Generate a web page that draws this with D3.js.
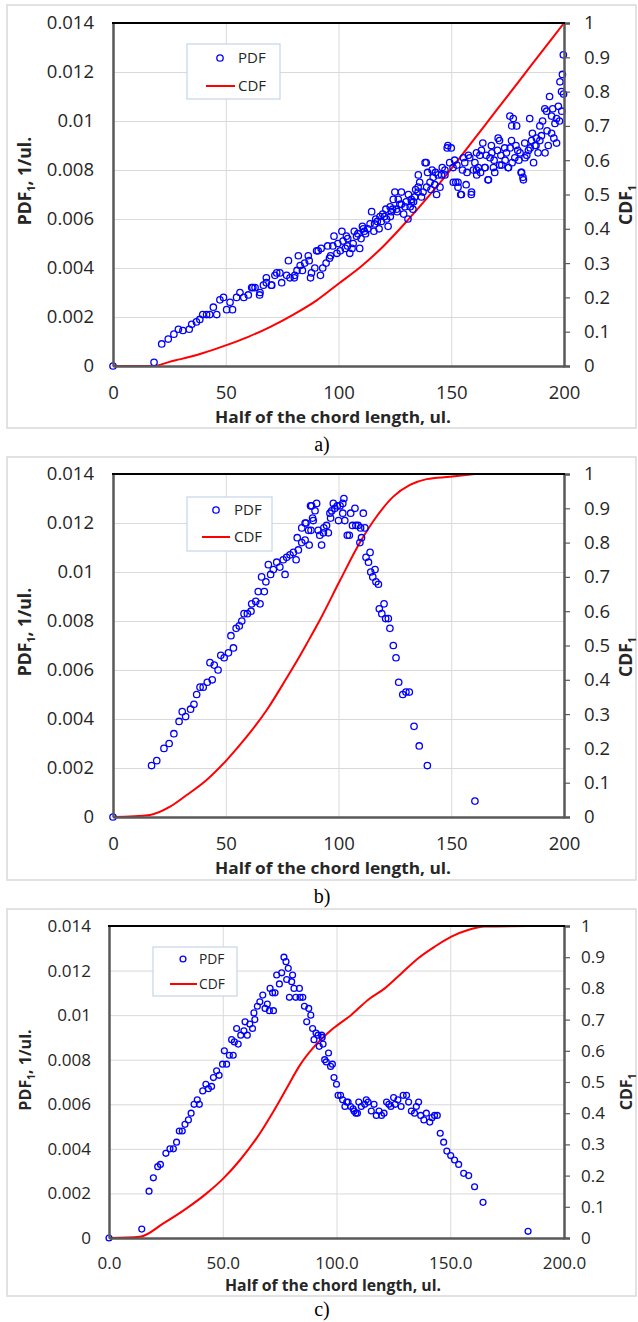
<!DOCTYPE html>
<html>
<head>
<meta charset="utf-8">
<script src="https://cdn.jsdelivr.net/npm/d3@7"></script>
<style>
  body { margin: 0; background: #fff; }
  text { font-family: "Open Sans", sans-serif; }
</style>
</head>
<body>
<svg id="chart" width="638" height="1322"></svg>
<script>
// ---- data ----
const xTicks = [0, 50, 100, 150, 200]
const xLabelsAB = ["0", "50", "100", "150", "200"]
const xLabelsC = ["0.0", "50.0", "100.0", "150.0", "200.0"]
const pdfTicks = [0, 0.002, 0.004, 0.006, 0.008, 0.01, 0.012, 0.014]
const pdfLabels = ["0", "0.002", "0.004", "0.006", "0.008", "0.01", "0.012", "0.014"]
const cdfTicks = [0, 0.1, 0.2, 0.3, 0.4, 0.5, 0.6, 0.7, 0.8, 0.9, 1]
const cdfLabels = ["0", "0.1", "0.2", "0.3", "0.4", "0.5", "0.6", "0.7", "0.8", "0.9", "1"]
const xTitle = "Half of the chord length, ul."
const captions = ["a)", "b)", "c)"]

// panel a) [half chord, pdf]
const pdfA = [[0,0],[18.2,0.00015],[21.6,0.0009],[24.5,0.0011],[27,0.0013],[29,0.0015],[31,0.00145],[33.8,0.0015],
  [34.9,0.0017],[37,0.0018],[38.5,0.0019],[39.8,0.0021],[41.5,0.0021],[42.9,0.0021],[44.5,0.0024],[46,0.0021],
  [47.4,0.0027],[49,0.0028],[50.4,0.0023],[51.9,0.0026],[53,0.0023],[54.8,0.0028],[56.3,0.003],[58,0.0028],
  [60,0.0029],[61.5,0.0032],[62,0.0032],[63,0.0032],[65,0.0029],[65.2,0.003],[66.7,0.0033],[68,0.0034],[68,0.0036],
  [70.2,0.0033],[70.4,0.0033],[71.8,0.0037],[72.6,0.0038],[74,0.0038],[74.8,0.0034],[77,0.0037],[77.8,0.0043],
  [78.5,0.0036],[80.4,0.0036],[80.6,0.0037],[81.6,0.0039],[82.2,0.0045],[83,0.0041],[84,0.0039],[85,0.0042],
  [86.6,0.0045],[87,0.0043],[87.6,0.0036],[88,0.0038],[89.5,0.004],[90.3,0.0047],[91,0.0047],[92,0.0037],[92.3,0.0048],
  [93,0.004],[94.5,0.0042],[95.2,0.0049],[96,0.0044],[96.5,0.0045],[97.5,0.0049],[98,0.0053],[99.3,0.0046],[99.7,0.005],
  [100.8,0.0047],[101.5,0.0055],[102,0.0051],[103,0.0048],[103.5,0.0053],[104,0.0049],[104.1,0.0052],[105,0.0046],
  [106,0.0048],[106.5,0.005],[107,0.0055],[108,0.0053],[108.6,0.0054],[109.4,0.0048],[110,0.0052],[110.6,0.0057],
  [111,0.0056],[111.5,0.0055],[112,0.0054],[113,0.0056],[114,0.0058],[114.7,0.0063],[115.7,0.0055],[116,0.0058],
  [116.5,0.006],[117.2,0.0059],[118,0.0056],[118.4,0.0061],[119,0.0059],[119.6,0.0062],[120.4,0.0061],[121,0.0064],
  [121.3,0.006],[122,0.0057],[122.9,0.0065],[123,0.0061],[123.4,0.0063],[124,0.0064],[124.3,0.0068],[125,0.0071],
  [125.7,0.0064],[126,0.0063],[126.5,0.0068],[127.2,0.0066],[127.9,0.0071],[127.9,0.0066],[128.9,0.0062],[129.5,0.0065],
  [130,0.0067],[130.8,0.006],[131,0.007],[131.8,0.0065],[132.3,0.0068],[132.4,0.0067],[133,0.0064],[133.3,0.0067],
  [133.8,0.0069],[134.2,0.0072],[135.3,0.0071],[135.3,0.0073],[135.4,0.0078],[136,0.0075],[136.8,0.0069],[137.5,0.0071],
  [138.4,0.0083],[138.9,0.0083],[139.1,0.0073],[139.5,0.0079],[140.6,0.0075],[141,0.0072],[141.5,0.008],[142,0.0077],
  [142.7,0.0074],[143,0.0079],[143.5,0.007],[144.2,0.0078],[145,0.0073],[145.7,0.0078],[146,0.0081],[147.2,0.008],
  [147.2,0.0078],[148.2,0.0089],[148.5,0.009],[149.3,0.0083],[150,0.0089],[150.8,0.0081],[150.9,0.0075],[151.5,0.0084],
  [152,0.0075],[152.5,0.0082],[153,0.0073],[153,0.0075],[154.2,0.007],[154.5,0.007],[155,0.008],[155.4,0.0085],
  [156,0.0083],[156.6,0.0074],[157,0.0079],[157.6,0.0086],[158.2,0.0085],[158.9,0.007],[159,0.0071],[159.8,0.008],
  [160.5,0.0083],[161.2,0.0087],[161.2,0.008],[161.3,0.0078],[162,0.0081],[162.7,0.0086],[163,0.0079],[163.4,0.0088],
  [164,0.0091],[164.9,0.0081],[165,0.0081],[165.5,0.0086],[166.3,0.0076],[166.5,0.0076],[167.2,0.0085],[167.8,0.009],
  [168,0.0087],[168.7,0.0081],[169,0.0084],[169.3,0.0079],[170.5,0.0088],[170.8,0.0093],[171.4,0.0092],[171.5,0.0082],
  [172,0.0086],[172.4,0.0082],[173.7,0.0089],[173.9,0.0084],[174.5,0.0087],[175.2,0.0081],[175.4,0.0081],[176,0.0102],
  [176.1,0.0089],[176.7,0.0092],[176.8,0.0098],[177,0.0083],[177.5,0.0101],[178.2,0.0085],[178.7,0.009],[179,0.0098],
  [179.5,0.0088],[180,0.0084],[180.5,0.0087],[181,0.0079],[181.2,0.0079],[181.8,0.0077],[182,0.0076],[182.6,0.0091],
  [182.7,0.0085],[183.5,0.0086],[184.2,0.0088],[184.8,0.0101],[185,0.0089],[185.6,0.0092],[186,0.0095],[186.5,0.0083],
  [187.1,0.009],[187.6,0.009],[187.8,0.0093],[188.5,0.0087],[189.3,0.0092],[189.3,0.0098],[190,0.0094],[190.5,0.01],
  [191.5,0.0105],[191.6,0.0087],[192.3,0.0104],[192.5,0.0096],[193,0.009],[193.6,0.011],[194.5,0.0095],[194.5,0.0102],
  [195,0.0105],[195.5,0.0093],[196,0.0099],[196.7,0.0091],[196.7,0.0101],[197.5,0.0106],[198,0.01],[198.2,0.0116],
  [198.9,0.0112],[199,0.0104],[199.3,0.0119],[199.7,0.0127],[199.8,0.0111]]
const cdfA = [[0,0],[18,0],[25,0.012],[30,0.02],[40,0.038],[50,0.06],[60,0.085],[70,0.115],[80,0.15],[90,0.19],
  [100,0.24],[110,0.29],[120,0.35],[130,0.42],[140,0.495],[150,0.575],[160,0.66],[170,0.745],[180,0.83],[190,0.915],[200,1]]

// panel b)
const pdfB = [[0,0],[17.1,0.0021],[19.4,0.0023],[22.6,0.0028],[24.9,0.003],[27,0.0034],[29.3,0.0039],[30.7,0.0043],
  [32.2,0.0041],[34.4,0.0044],[35.9,0.0046],[37.1,0.005],[38.6,0.0053],[40,0.0053],[41.8,0.0055],[43,0.0063],[44,0.0056],
  [44.9,0.0062],[46.6,0.006],[47.8,0.0066],[49.3,0.0065],[51.2,0.0067],[52.3,0.0074],[53.4,0.0069],[54.6,0.0077],
  [56,0.0078],[57.1,0.008],[58.1,0.0083],[59.6,0.0083],[61.2,0.0084],[61.5,0.0087],[63.3,0.0088],[64.4,0.0092],
  [65.2,0.0087],[65.9,0.0098],[67.1,0.0092],[67.8,0.0096],[68.9,0.0103],[69.9,0.0099],[71.1,0.0101],[72.6,0.0104],
  [74,0.0102],[75.5,0.0105],[76.3,0.0099],[77,0.0106],[78.5,0.0107],[80,0.0108],[81.2,0.0105],[81.7,0.0114],[82.2,0.0109],
  [83.7,0.0112],[83.7,0.0118],[85.2,0.0113],[85.2,0.012],[85.6,0.012],[86.7,0.0117],[87,0.0111],[87.6,0.0127],[87.8,0.0117],
  [88.1,0.0127],[88.5,0.0122],[88.8,0.0121],[89.6,0.0125],[90.3,0.0128],[91,0.0117],[91.7,0.0115],[92.5,0.0111],
  [93.3,0.0116],[93.5,0.0118],[94.7,0.0119],[95.5,0.0116],[96.2,0.0124],[96.5,0.0122],[97,0.0125],[97.7,0.0128],
  [98.4,0.0126],[99.5,0.0127],[100,0.0121],[100.7,0.0127],[101.9,0.0128],[101.9,0.0124],[102.4,0.013],[102.8,0.0121],
  [103.9,0.0115],[104.8,0.0115],[105.4,0.0124],[106.2,0.0119],[107.3,0.0126],[107.7,0.0119],[108.7,0.0119],[109.5,0.0112],
  [109.8,0.0118],[110.2,0.0114],[111,0.0124],[111.7,0.0118],[112.2,0.0106],[113.3,0.0104],[114,0.0108],[114.3,0.01],
  [115.2,0.0098],[116.2,0.0101],[116.6,0.0096],[117.7,0.0095],[118.1,0.0085],[119.2,0.0083],[120.2,0.0087],[120.9,0.0081],
  [122.1,0.0081],[122.8,0.0077],[124.3,0.007],[125.5,0.0065],[126.7,0.0055],[128.5,0.005],[129.9,0.0051],[131.4,0.0051],
  [133.5,0.0037],[135.8,0.0029],[139.4,0.0021],[160.5,0.00065]]
const cdfB = [[0,0],[16.4,0.006],[25.3,0.03],[32.7,0.064],[41.5,0.108],[50.4,0.166],[59.3,0.234],[68.2,0.312],[77,0.405],
  [82.9,0.47],[85.9,0.505],[91.8,0.575],[100.7,0.69],[109.5,0.8],[116.9,0.876],[124.3,0.934],[131.7,0.968],[139.1,0.985],
  [149.4,0.992],[160.5,1]]

// panel c)
const pdfC = [[0,0],[14.4,0.0004],[17.6,0.0021],[19.5,0.0027],[21.4,0.0032],[22.6,0.0033],[25,0.0038],[26.8,0.004],
  [28.3,0.004],[29.7,0.0043],[30.9,0.0048],[32.2,0.0048],[33.4,0.0051],[34.9,0.0053],[36.1,0.0056],[37.4,0.006],
  [38.8,0.0062],[39.7,0.006],[41.2,0.0066],[42.6,0.0069],[43.7,0.0067],[45.1,0.0068],[45.9,0.0072],[47.3,0.0075],
  [48.4,0.0073],[49.9,0.0078],[50.7,0.0084],[51.7,0.0078],[52.9,0.0082],[53.9,0.0089],[54.6,0.0082],[55.1,0.0088],
  [56.1,0.0094],[56.8,0.0087],[57.9,0.0091],[59.3,0.0093],[59.8,0.0097],[60.8,0.0091],[61.9,0.0096],[63.1,0.0094],
  [63.7,0.0101],[64.1,0.0098],[65.2,0.0104],[66.3,0.0106],[67.6,0.0109],[68.6,0.0103],[69.6,0.0105],[70.5,0.0102],
  [70.8,0.0112],[71.9,0.011],[72.3,0.0102],[73,0.011],[73.7,0.0118],[74.9,0.0114],[75.9,0.0119],[76.9,0.0126],
  [77.8,0.0124],[78.1,0.0116],[78.8,0.0121],[79.3,0.0108],[80.3,0.0115],[80.7,0.0118],[81.3,0.0112],[82.1,0.0108],
  [83.7,0.0112],[84,0.0108],[85.2,0.0108],[85.9,0.0104],[86.9,0.0097],[87.8,0.0103],[88.7,0.01],[89.5,0.0094],
  [90.1,0.0089],[91,0.0092],[91.9,0.0091],[92.4,0.0086],[93.5,0.0091],[93.7,0.009],[94.1,0.0087],[94.8,0.008],
  [95.5,0.0079],[96.5,0.0083],[97.4,0.0077],[98.2,0.0078],[98.9,0.0072],[100,0.0069],[100.7,0.0064],[101.8,0.0064],
  [102.7,0.0062],[103.7,0.0059],[104.5,0.0061],[105.1,0.0061],[106.2,0.0059],[107.3,0.0058],[107.7,0.0057],[108.5,0.0056],
  [109.2,0.0056],[109.8,0.0061],[110.9,0.0059],[112.4,0.006],[113.1,0.0062],[113.9,0.0061],[115.3,0.0057],[116.5,0.006],
  [117.5,0.0055],[118.7,0.0057],[119.8,0.0055],[120.9,0.0056],[122,0.0061],[123,0.006],[123.9,0.0059],[125.1,0.0063],
  [125.8,0.006],[127,0.0062],[128.4,0.0059],[129.3,0.0064],[130.8,0.0064],[131.7,0.0061],[132.9,0.0057],[134.3,0.0056],
  [135.1,0.0059],[136.1,0.0061],[137,0.0055],[138.4,0.0053],[139.5,0.0056],[141,0.0052],[142,0.0054],[143.1,0.0055],
  [144.3,0.0055],[145.6,0.0047],[147.1,0.0043],[148.5,0.0039],[150.2,0.0037],[151.9,0.0035],[153.7,0.0033],[155.9,0.0029],
  [158.1,0.0028],[160.7,0.0023],[164.4,0.0016],[184.2,0.0003]]
const cdfC = [[0,0],[13.6,0.004],[23.9,0.047],[34.1,0.095],[42.9,0.143],[50.3,0.191],[57.6,0.25],[64.9,0.32],[72.2,0.405],
  [78.1,0.48],[84,0.555],[89.8,0.61],[98.6,0.672],[106.5,0.715],[113.8,0.763],[121.2,0.8],[128.5,0.848],[135.8,0.896],
  [143.2,0.934],[150.5,0.966],[157.8,0.987],[165.1,0.998],[184.2,1]]

// ---- layout ----
const panels = [
  { pdf: pdfA, cdf: cdfA, xLabels: xLabelsAB, caption: captions[0],
    frame: { y: 5, h: 423 }, plot: { l: 113, r: 564, t: 23, b: 366 }, fs: 1,
    legend: { x: 187, y: 44, w: 93, h: 55, mx: 33, my: 14, tx: 51, l0: 19, l1: 48, ly: 42 },
    xLab: 33, yPad: 19, rPad: 14, xTitleY: 422.5, titleW: 236, yTitleY: 181, rTitleY: 205, capY: 451 },
  { pdf: pdfB, cdf: cdfB, xLabels: xLabelsAB, caption: captions[1],
    frame: { y: 457, h: 423 }, plot: { l: 113, r: 564, t: 474, b: 817 }, fs: 1,
    legend: { x: 187, y: 497, w: 85, h: 54, mx: 29, my: 13, tx: 47, l0: 15, l1: 43, ly: 40 },
    xLab: 33, yPad: 19, rPad: 14, xTitleY: 874, titleW: 236, yTitleY: 632, rTitleY: 657, capY: 903 },
  { pdf: pdfC, cdf: cdfC, xLabels: xLabelsC, caption: captions[2],
    frame: { y: 909, h: 387 }, plot: { l: 109, r: 564, t: 926, b: 1238 }, fs: 0.92,
    legend: { x: 153, y: 947, w: 84, h: 49, mx: 30, my: 12, tx: 46, l0: 17, l1: 44, ly: 37 },
    xLab: 31, yPad: 18, rPad: 11, xTitleY: 1290.5, titleW: 216, yTitleY: 1070, rTitleY: 1092, capY: 1316 }
]

const svg = d3.select('#chart')
svg.append('rect').attr('width', 638).attr('height', 1322).attr('fill', '#fff')

const axisColor = '#595959'
const labelColor = '#262626'

function drawPanel(p) {
  const g = svg.append('g')
  const fsTick = 18.5 * p.fs, fsTitle = 17.5 * p.fs, fsXTitle = 16.5 * p.fs, fsLeg = 15 * p.fs

  // outer frame
  g.append('rect')
    .attr('x', 7).attr('y', p.frame.y)
    .attr('width', 629).attr('height', p.frame.h)
    .attr('fill', 'none').attr('stroke', '#d9d9d9').attr('stroke-width', 1.5)

  const x = d3.scaleLinear().domain([0, 200]).range([p.plot.l, p.plot.r])
  const y = d3.scaleLinear().domain([0, 0.014]).range([p.plot.b, p.plot.t])
  const y2 = d3.scaleLinear().domain([0, 1]).range([p.plot.b, p.plot.t])
  const w = p.plot.r - p.plot.l, h = p.plot.b - p.plot.t

  // gridlines
  g.append('g')
    .attr('transform', `translate(0,${p.plot.b})`)
    .call(d3.axisBottom(x).tickValues(xTicks.slice(1, -1)).tickSize(-h).tickFormat(''))
    .call(s => s.select('.domain').remove())
    .selectAll('line').attr('stroke', '#d9d9d9').attr('stroke-width', 1)
  g.append('g')
    .attr('transform', `translate(${p.plot.l},0)`)
    .call(d3.axisLeft(y).tickValues(pdfTicks.slice(1, -1)).tickSize(-w).tickFormat(''))
    .call(s => s.select('.domain').remove())
    .selectAll('line').attr('stroke', '#d9d9d9').attr('stroke-width', 1)

  // CDF line (secondary axis)
  g.append('path')
    .datum(p.cdf)
    .attr('fill', 'none')
    .attr('stroke', '#ff0000')
    .attr('stroke-width', 2)
    .attr('d', d3.line().x(d => x(d[0])).y(d => y2(d[1])).curve(d3.curveMonotoneX))

  // PDF markers
  g.append('g').selectAll('circle')
    .data(p.pdf)
    .join('circle')
    .attr('cx', d => x(d[0]))
    .attr('cy', d => y(d[1]))
    .attr('r', 3.2 * p.fs)
    .attr('fill', 'none')
    .attr('stroke', '#0000ff')
    .attr('stroke-width', 1.3)

  // left axis
  const left = g.append('g')
    .attr('transform', `translate(${p.plot.l},0)`)
    .call(d3.axisLeft(y).tickValues(pdfTicks).tickSize(0).tickPadding(p.yPad)
      .tickFormat((d, i) => pdfLabels[i]))
  left.select('.domain').attr('stroke', axisColor).attr('stroke-width', 2.5)
  left.selectAll('text').attr('font-size', fsTick).attr('fill', labelColor)

  // bottom axis
  const bottom = g.append('g')
    .attr('transform', `translate(0,${p.plot.b})`)
    .call(d3.axisBottom(x).tickValues(xTicks).tickSize(0)
      .tickPadding(p.xLab - 0.71 * fsTick).tickFormat((d, i) => p.xLabels[i]))
  bottom.select('.domain').attr('stroke', axisColor).attr('stroke-width', 2.5)
  bottom.selectAll('text').attr('font-size', fsTick).attr('fill', labelColor)

  // right axis
  const right = g.append('g')
    .attr('transform', `translate(${p.plot.r},0)`)
    .call(d3.axisRight(y2).tickValues(cdfTicks).tickSize(6).tickPadding(p.rPad)
      .tickFormat((d, i) => cdfLabels[i]))
  right.select('.domain').attr('stroke', axisColor).attr('stroke-width', 2.5)
  right.selectAll('line').attr('stroke', axisColor).attr('stroke-width', 1.2)
  right.selectAll('text').attr('font-size', fsTick).attr('fill', labelColor)

  // top border
  g.append('line')
    .attr('x1', p.plot.l - 1).attr('x2', p.plot.r + 1)
    .attr('y1', p.plot.t).attr('y2', p.plot.t)
    .attr('stroke', '#000').attr('stroke-width', 2)

  // titles
  g.append('text')
    .attr('x', 333 - p.titleW / 2).attr('y', p.xTitleY)
    .attr('textLength', p.titleW).attr('lengthAdjust', 'spacingAndGlyphs')
    .attr('font-size', fsXTitle).attr('font-weight', 'bold').attr('fill', labelColor)
    .text(xTitle)

  const yt = g.append('text')
    .attr('transform', `translate(${31 + 2 * (1 - p.fs)},${p.yTitleY}) rotate(-90)`)
    .attr('text-anchor', 'middle')
    .attr('font-size', fsTitle).attr('font-weight', 'bold').attr('fill', labelColor)
  yt.append('tspan').text('PDF')
  yt.append('tspan').attr('font-size', fsTitle * 0.62).attr('dy', 4).text('1')
  yt.append('tspan').attr('dy', -4).text(', 1/ul.')

  const rt = g.append('text')
    .attr('transform', `translate(632,${p.rTitleY}) rotate(-90)`)
    .attr('text-anchor', 'middle')
    .attr('font-size', fsTitle).attr('font-weight', 'bold').attr('fill', labelColor)
  rt.append('tspan').text('CDF')
  rt.append('tspan').attr('font-size', fsTitle * 0.62).attr('dy', 4).text('1')

  // legend
  const L = p.legend
  const leg = g.append('g').attr('transform', `translate(${L.x},${L.y})`)
  leg.append('rect')
    .attr('width', L.w).attr('height', L.h)
    .attr('fill', '#fff').attr('stroke', '#c5d5ea').attr('stroke-width', 1.2)
  leg.append('circle')
    .attr('cx', L.mx).attr('cy', L.my).attr('r', 3.2 * p.fs)
    .attr('fill', 'none').attr('stroke', '#0000ff').attr('stroke-width', 1.3)
  leg.append('line')
    .attr('x1', L.l0).attr('x2', L.l1).attr('y1', L.ly).attr('y2', L.ly)
    .attr('stroke', '#ff0000').attr('stroke-width', 2)
  leg.append('text').attr('x', L.tx).attr('y', L.my).attr('dy', '0.35em')
    .attr('font-size', fsLeg).attr('fill', labelColor).text('PDF')
  leg.append('text').attr('x', L.tx).attr('y', L.ly).attr('dy', '0.35em')
    .attr('font-size', fsLeg).attr('fill', labelColor).text('CDF')

  // caption under the panel (style, so the css font rule does not win)
  svg.append('text')
    .attr('x', 322).attr('y', p.capY)
    .attr('text-anchor', 'middle')
    .style('font-family', '"Liberation Serif", "Times New Roman", serif')
    .attr('font-size', 20).attr('fill', '#000')
    .text(p.caption)
}

panels.forEach(p => drawPanel(p))
</script>
</body>
</html>
